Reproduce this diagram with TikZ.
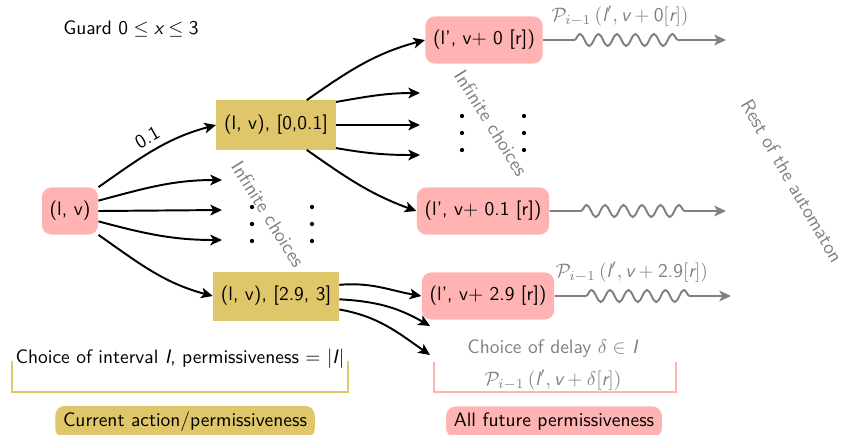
\documentclass[tikz,border=0pt]{standalone}
\usetikzlibrary{arrows.meta,decorations.pathmorphing,calc}
\definecolor{pinkc}{RGB}{255,179,179}
\definecolor{goldc}{RGB}{224,198,106}
\definecolor{txtgray}{RGB}{128,128,128}
\begin{document}
\begin{tikzpicture}[x=0.514pt,y=-0.514pt,font=\sffamily,
  pinkbox/.style={fill=pinkc,rounded corners=5pt,minimum height=24.3pt,inner xsep=4pt},
  goldbox/.style={fill=goldc,minimum height=25.2pt,inner xsep=4pt},
  arr/.style={-{Stealth[length=6pt,width=5.5pt,inset=1.5pt]},line width=1pt},
  wavy/.style={txtgray,line width=1pt,-{Stealth[length=6pt,width=5.5pt,inset=1.5pt]},
    decorate,decoration={snake,amplitude=3.1pt,segment length=9.5pt,pre length=16pt,post length=20pt}},
  graytxt/.style={text=txtgray},
  dotfill/.style={fill=black}]
\useasboundingbox (0,0) rectangle (845,434);

\node (guard) at (131,29) {Guard $\textsf{0}\leq\textit{x}\leq\textsf{3}$};

\node[pinkbox,minimum width=28pt] (lv) at (70,211) {(l, v)};
\node[goldbox] (g1) at (276,125) {(l, v), [0,0.1]};
\node[goldbox] (g2) at (276,296) {(l, v), [2.9, 3]};
\node[pinkbox] (p0) at (484,40) {(l', v+ 0 [r])};
\node[pinkbox] (p1) at (483,211) {(l', v+ 0.1 [r])};
\node[pinkbox] (p2) at (488,296) {(l', v+ 2.9 [r])};

\coordinate (a1) at (222,180);
\coordinate (a2) at (222,210);
\coordinate (a3) at (222,240);
\coordinate (b1) at (420,93);
\coordinate (b2) at (420,125);
\coordinate (b3) at (420,155);
\coordinate (c1) at (430,326);
\coordinate (c2) at (430,355);
\coordinate (w0) at (726,40);
\coordinate (w1) at (726,211);
\coordinate (w2) at (731,296);

% from (l,v)
\draw[arr] (lv.40) to[out=35,in=195] node[midway,above,sloped] {0.1} (g1.west);
\draw[arr] (lv.20) to[out=15,in=180] (a1);
\draw[arr] (lv.east) -- (a2);
\draw[arr] (lv.-20) to[out=-15,in=180] (a3);
\draw[arr] (lv.-40) to[out=-35,in=165] (g2.west);

% from [0,0.1]
\draw[arr] (g1.39) to[out=35,in=195] (p0.west);
\draw[arr] (g1.21) to[out=10,in=180] (b1);
\draw[arr] (g1.east) -- (b2);
\draw[arr] (g1.-21) to[out=-10,in=180] (b3);
\draw[arr] (g1.-39) to[out=-35,in=160] (p1.west);

% from [2.9,3]
\draw[arr] (g2.10) to[out=5,in=170] (p2.west);
\draw[arr] (g2.-3) to[out=-3,in=150] (c1);
\draw[arr] (g2.-12) to[out=-10,in=145] (c2);

% dots
\foreach \x in {252,312}{\foreach \y in {207,224,241}{\fill[dotfill] (\x,\y) circle (1.1pt);}}
\foreach \x in {462,524}{\foreach \y in {116,133,150}{\fill[dotfill] (\x,\y) circle (1.1pt);}}

\node[graytxt,rotate=-58] (ic1) at (268,214) {Infinite choices};
\node[graytxt,rotate=-58] (ic2) at (491,123) {Infinite choices};
\node[graytxt,rotate=-60] (rest) at (792,181) {Rest of the automaton};

% wavy arrows
\draw[wavy] (p0.east) -- (w0);
\draw[wavy] (p1.east) -- (w1);
\draw[wavy] (p2.east) -- (w2);
\node[graytxt] (lab0) at (620,16) {$\mathcal{P}_{i-1}\,(\textit{l}', \textit{v}+\textsf{0}[\textit{r}])$};
\node[graytxt] (lab2) at (632,272) {$\mathcal{P}_{i-1}\,(\textit{l}', \textit{v}+\textsf{2.9}[\textit{r}])$};

% bottom legends
\node (ci) at (180,359) {Choice of interval \textit{I}, permissiveness = $|$\textit{I}$|$};
\draw[goldc,line width=1.3pt] (12,361) -- (12,392) -- (348,392) -- (348,361);
\node[fill=goldc,rounded corners=5pt,minimum height=16pt,inner xsep=4pt] (ca) at (185,422) {Current action/permissiveness};

\node[graytxt] (cd) at (553,349) {Choice of delay $\delta\in$ \textit{I}};
\node[graytxt] (pd) at (553,380) {$\mathcal{P}_{i-1}\,(\textit{l}', \textit{v}+\delta[\textit{r}])$};
\draw[pinkc,line width=1.3pt] (434,362) -- (434,392) -- (676,392) -- (676,362);
\node[fill=pinkc,rounded corners=5pt,minimum height=16pt,inner xsep=4pt] (af) at (554,422) {All future permissiveness};
\end{tikzpicture}
\end{document}
